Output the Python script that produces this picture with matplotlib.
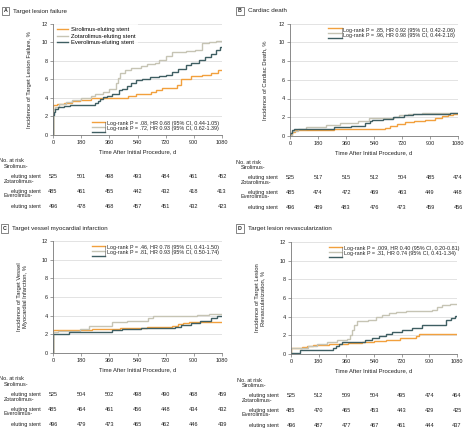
import matplotlib
matplotlib.use('Agg')
import matplotlib.pyplot as plt

plt.rcParams['font.family'] = ['Liberation Sans', 'DejaVu Sans']
FS = 4.0

# colours of the three stents
C_SIRO = '#F2A03D'
C_ZOTA = '#C6C4B4'
C_EVER = '#3E5E62'
names = ['Sirolimus-eluting stent', 'Zotarolimus-eluting stent', 'Everolimus-eluting stent']

days = [0, 180, 360, 540, 720, 900, 1080]

# --- A: target lesion failure
a_siro_t = [0, 0, 25, 70, 120, 175, 240, 330, 480, 530, 625, 660, 695, 790, 815, 880, 950, 1010, 1055, 1080]
a_siro_v = [0, 3.2, 3.3, 3.45, 3.65, 3.8, 3.95, 4.0, 4.15, 4.4, 4.6, 4.8, 5.1, 5.4, 6.05, 6.3, 6.5, 6.7, 6.95, 6.95]
a_zota_t = [0, 0, 10, 40, 80, 120, 180, 240, 270, 320, 360, 390, 400, 415, 430, 460, 500, 560, 600, 650, 680, 720,
            760, 850, 905, 950, 1000, 1040, 1080]
a_zota_v = [0, 2.8, 3.0, 3.3, 3.5, 3.8, 4.0, 4.2, 4.4, 4.6, 4.9, 5.0, 5.6, 6.1, 6.7, 7.0, 7.2, 7.4, 7.6, 7.8, 8.1,
            8.5, 8.9, 9.0, 9.2, 9.9, 10.0, 10.1, 10.1]
a_ever_t = [0, 0, 5, 15, 35, 70, 110, 270, 285, 300, 320, 345, 380, 420, 440, 470, 500, 530, 570, 620, 680, 720, 760,
            800, 850, 880, 930, 970, 1010, 1040, 1065, 1080]
a_ever_v = [0, 2.1, 2.5, 2.8, 3.0, 3.1, 3.2, 3.4, 3.7, 3.9, 4.1, 4.2, 4.4, 4.8, 5.0, 5.3, 5.6, 5.9, 6.0, 6.2, 6.3, 6.5,
            6.8, 7.1, 7.5, 7.8, 8.1, 8.4, 8.7, 9.1, 9.5, 9.5]
a_risk = [[525, 501, 498, 493, 484, 461, 452],
          [485, 461, 455, 442, 432, 418, 413],
          [496, 478, 468, 457, 451, 432, 423]]
a_logrank = ['Log-rank P = .08, HR 0.68 (95% CI, 0.44-1.05)',
             'Log-rank P = .72, HR 0.93 (95% CI, 0.62-1.39)']

# --- B: cardiac death
b_siro_t = [0, 3, 15, 35, 280, 610, 640, 690, 740, 800, 870, 930, 975, 1015, 1050, 1080]
b_siro_v = [0, 0.2, 0.4, 0.6, 0.7, 0.85, 1.05, 1.3, 1.45, 1.6, 1.75, 1.9, 2.1, 2.25, 2.4, 2.4]
b_zota_t = [0, 10, 50, 105, 230, 320, 440, 510, 670, 700, 760, 850, 1080]
b_zota_v = [0, 0.55, 0.7, 0.95, 1.15, 1.4, 1.55, 1.9, 2.05, 2.2, 2.35, 2.5, 2.5]
b_ever_t = [0, 2, 10, 25, 280, 390, 480, 515, 528, 600, 665, 730, 790, 1030, 1080]
b_ever_v = [0, 0.3, 0.6, 0.8, 0.95, 1.1, 1.35, 1.6, 1.75, 1.85, 2.0, 2.2, 2.3, 2.45, 2.45]
b_risk = [[525, 517, 515, 512, 504, 485, 474],
          [485, 474, 472, 469, 463, 449, 448],
          [496, 489, 483, 476, 473, 459, 456]]
b_logrank = ['Log-rank P = .85, HR 0.92 (95% CI, 0.42-2.06)',
             'Log-rank P = .96, HR 0.98 (95% CI, 0.44-2.18)']

# --- C: target vessel MI
c_siro_t = [0, 0, 180, 250, 430, 600, 760, 800, 830, 870, 1080]
c_siro_v = [0, 2.45, 2.5, 2.6, 2.65, 2.8, 2.9, 3.1, 3.25, 3.3, 3.3]
c_zota_t = [0, 0, 30, 170, 230, 380, 470, 610, 640, 920, 1000, 1080]
c_zota_v = [0, 2.3, 2.4, 2.6, 2.9, 3.3, 3.4, 3.7, 4.0, 4.1, 4.2, 4.2]
c_ever_t = [0, 0, 100, 380, 440, 560, 780, 820, 880, 940, 1010, 1045, 1070, 1080]
c_ever_v = [0, 2.0, 2.2, 2.45, 2.55, 2.65, 2.8, 3.0, 3.2, 3.45, 3.75, 3.95, 4.0, 4.0]
c_risk = [[525, 504, 502, 498, 490, 468, 459],
          [485, 464, 461, 456, 448, 434, 432],
          [496, 479, 473, 465, 462, 446, 439]]
c_logrank = ['Log-rank P = .46, HR 0.78 (95% CI, 0.41-1.50)',
             'Log-rank P = .81, HR 0.93 (95% CI, 0.50-1.74)']

# --- D: target lesion revascularization
d_siro_t = [0, 0, 70, 105, 140, 245, 370, 460, 540, 615, 710, 810, 835, 1080]
d_siro_v = [0, 0.6, 0.7, 0.85, 1.0, 1.1, 1.2, 1.3, 1.4, 1.5, 1.7, 1.9, 2.1, 2.1]
d_zota_t = [0, 0, 110, 170, 235, 300, 365, 385, 400, 410, 430, 500, 550, 590, 635, 680, 745, 915, 950, 985, 1035, 1080]
d_zota_v = [0, 0.6, 0.9, 1.1, 1.3, 1.45, 1.65, 2.0, 2.6, 3.1, 3.5, 3.65, 4.0, 4.2, 4.35, 4.5, 4.6, 4.7, 5.0, 5.2,
            5.35, 5.35]
d_ever_t = [0, 0, 60, 270, 290, 310, 335, 480, 530, 575, 620, 660, 720, 785, 850, 1010, 1040, 1065, 1080]
d_ever_v = [0, 0.15, 0.4, 0.6, 0.9, 1.1, 1.3, 1.5, 1.7, 1.9, 2.1, 2.35, 2.6, 2.8, 3.1, 3.6, 3.9, 4.05, 4.05]
d_risk = [[525, 512, 509, 504, 495, 474, 464],
          [485, 470, 465, 453, 443, 429, 425],
          [496, 487, 477, 467, 461, 444, 437]]
d_logrank = ['Log-rank P = .009, HR 0.40 (95% CI, 0.20-0.81)',
             'Log-rank P = .31, HR 0.74 (95% CI, 0.41-1.34)']

W, H = 468, 432
fig = plt.figure(figsize=(W / 100, H / 100), dpi=100)


def px_axes(l, t, r, b):
    return fig.add_axes([l / W, 1 - b / H, (r - l) / W, (b - t) / H])


def pt(px):
    return px * 0.72


def draw_panel(ax, curves, risk, logrank, ylabel, ylabel_x, lr_pos):
    for (t, v), col, name in zip(curves, [C_SIRO, C_ZOTA, C_EVER], names):
        ax.step(t, v, where='post', color=col, lw=1.0, label=name, solid_joinstyle='miter')
    ax.set_xlim(0, 1080)
    ax.set_ylim(0, 12)
    ax.set_xticks(days)
    ax.set_yticks(range(0, 13, 2))
    for y in range(2, 13, 2):
        ax.axhline(y, color='#d8d8d8', lw=0.5, zorder=0)
    for s in ['top', 'right']:
        ax.spines[s].set_visible(False)
    for s in ['left', 'bottom']:
        ax.spines[s].set_color('#777777')
        ax.spines[s].set_linewidth(0.6)
    ax.tick_params(axis='both', labelsize=FS, colors='#777777', labelcolor='#222222',
                   length=2, width=0.5, pad=1.5)
    ax.set_xlabel('Time After Initial Procedure, d', fontsize=FS + 0.2, color='#222222', labelpad=3)
    ax.set_ylabel(ylabel, fontsize=FS + 0.2, color='#222222', linespacing=1.15)
    ax.yaxis.set_label_coords(ylabel_x, 0.5)

    # log-rank notes with bracket keys
    y0, y1, y2 = lr_pos
    for y, col in zip([y0, y1, y2], [C_SIRO, C_ZOTA, C_EVER]):
        ax.plot([0.229, 0.308], [y, y], color=col, lw=1.0, transform=ax.transAxes, clip_on=False)
    ax.plot([0.308, 0.308], [y0, y1 + 0.004], color='#555555', lw=0.4, transform=ax.transAxes)
    ax.plot([0.308, 0.308], [y1 - 0.004, y2], color='#555555', lw=0.4, transform=ax.transAxes)
    ax.text(0.318, (y0 + y1) / 2 + 0.005, logrank[0], transform=ax.transAxes, fontsize=FS - 0.1,
            va='center', ha='left', color='#222222')
    ax.text(0.318, (y1 + y2) / 2 + 0.005, logrank[1], transform=ax.transAxes, fontsize=FS - 0.1,
            va='center', ha='left', color='#222222')

    # number at risk table
    ax.annotate('No. at risk', xy=(0, 0), xycoords='axes fraction', xytext=(pt(-54), pt(-26)),
                textcoords='offset points', fontsize=FS, ha='left', va='center', color='#222222')
    heads = ['Sirolimus-', 'Zotarolimus-', 'Everolimus-']
    for i, row in enumerate(risk):
        yh = -31.5 - 14.7 * i
        yr = -41.7 - 14.7 * i
        ax.annotate(heads[i], xy=(0, 0), xycoords='axes fraction', xytext=(pt(-49.5), pt(yh)),
                    textcoords='offset points', fontsize=FS, ha='left', va='center', color='#222222')
        ax.annotate('eluting stent', xy=(0, 0), xycoords='axes fraction', xytext=(pt(-12), pt(yr)),
                    textcoords='offset points', fontsize=FS, ha='right', va='center', color='#222222')
        for d, n in zip(days, row):
            ax.annotate(str(n), xy=(d, 0), xycoords=('data', 'axes fraction'), xytext=(0, pt(yr)),
                        textcoords='offset points', fontsize=FS, ha='center', va='center', color='#222222')


axA = px_axes(53, 23.5, 222, 135)
axB = px_axes(290, 23.5, 458, 136)
axC = px_axes(53, 241, 222, 353)
axD = px_axes(291, 242, 457, 354)

top_lr = (0.958, 0.914, 0.869)
draw_panel(axA, [(a_siro_t, a_siro_v), (a_zota_t, a_zota_v), (a_ever_t, a_ever_v)], a_risk, a_logrank,
           'Incidence of Target Lesion Failure, %', -0.125, (0.119, 0.074, 0.030))
draw_panel(axB, [(b_siro_t, b_siro_v), (b_zota_t, b_zota_v), (b_ever_t, b_ever_v)], b_risk, b_logrank,
           'Incidence of Cardiac Death, %', -0.137, top_lr)
draw_panel(axC, [(c_siro_t, c_siro_v), (c_zota_t, c_zota_v), (c_ever_t, c_ever_v)], c_risk, c_logrank,
           'Incidence of Target Vessel\nMyocardial Infarction, %', -0.15, top_lr)
draw_panel(axD, [(d_siro_t, d_siro_v), (d_zota_t, d_zota_v), (d_ever_t, d_ever_v)], d_risk, d_logrank,
           'Incidence of Target Lesion\nRevascularization, %', -0.155, top_lr)

leg = axA.legend(loc='upper left', bbox_to_anchor=(0.005, 0.995), borderaxespad=0, fontsize=FS + 0.2,
                 frameon=True, fancybox=False, handlelength=2.0, handletextpad=0.4,
                 labelspacing=0.25, borderpad=0.5)
leg.get_frame().set_edgecolor('white')
leg.get_frame().set_linewidth(0)

# panel titles
titles = [('A', 'Target lesion failure', 5.5, 11),
          ('B', 'Cardiac death', 240, 11),
          ('C', 'Target vessel myocardial infarction', 4.5, 228.5),
          ('D', 'Target lesion revascularization', 240, 228.5)]
for letter, text, x, y in titles:
    fig.text(x / W, 1 - y / H, letter, fontsize=3.8, fontweight='bold', ha='center', va='center',
             color='#222222',
             bbox=dict(boxstyle='square,pad=0.35', fc='white', ec='#555555', lw=0.5))
    fig.text((x + 7.5) / W, 1 - y / H, text, fontsize=FS + 0.5, ha='left', va='center', color='#222222')

fig.savefig('out.png', dpi=100)
